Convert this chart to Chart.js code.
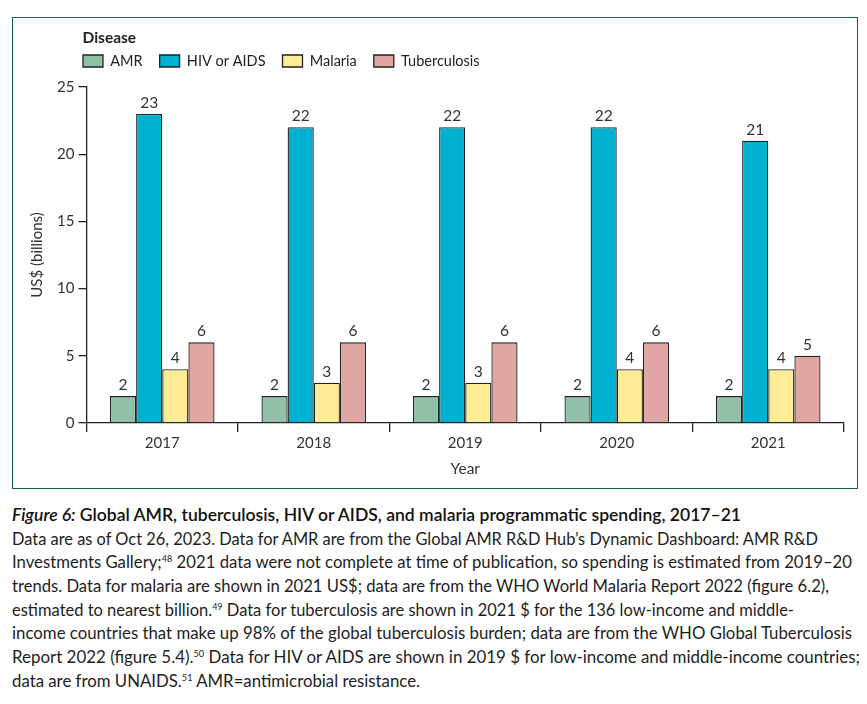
<!DOCTYPE html>
<html>
<head>
<meta charset="utf-8">
<script src="https://cdn.jsdelivr.net/npm/chart.js@4.4.1/dist/chart.umd.min.js"></script>
<style>
html,body{margin:0;padding:0;background:#fff;width:867px;height:704px;overflow:hidden}
#frame{position:absolute;left:12px;top:17px;width:844px;height:470px;border:1.5px solid #10683f}
#wrap{position:absolute;left:20px;top:20px;width:836px;height:466px}
#cap{position:absolute;left:12px;top:504px;color:#1e1e1e;font-family:Lato,"Open Sans",sans-serif;font-size:16.5px}
.ln{display:block;width:max-content;white-space:nowrap;height:23.7px;line-height:23.7px;transform-origin:0 50%}
.ttl{font-weight:600;color:#111}
sup{font-size:9px;line-height:0;vertical-align:6px}
</style>
</head>
<body>
<div id="frame"></div>
<div id="wrap"><canvas id="c"></canvas></div>
<div id="cap">
<span class="ln ttl" data-w="729"><i>Figure 6:</i> Global AMR, tuberculosis, HIV or AIDS, and malaria programmatic spending, 2017–21</span>
<span class="ln" data-w="806">Data are as of Oct 26, 2023. Data for AMR are from the Global AMR R&amp;D Hub’s Dynamic Dashboard: AMR R&amp;D</span>
<span class="ln" data-w="840">Investments Gallery;<sup>48</sup> 2021 data were not complete at time of publication, so spending is estimated from 2019–20</span>
<span class="ln" data-w="817">trends. Data for malaria are shown in 2021 US$; data are from the WHO World Malaria Report 2022 (figure 6.2),</span>
<span class="ln" data-w="782">estimated to nearest billion.<sup>49</sup> Data for tuberculosis are shown in 2021 $ for the 136 low-income and middle-</span>
<span class="ln" data-w="840">income countries that make up 98% of the global tuberculosis burden; data are from the WHO Global Tuberculosis</span>
<span class="ln" data-w="848">Report 2022 (figure 5.4).<sup>50</sup> Data for HIV or AIDS are shown in 2019 $ for low-income and middle-income countries;</span>
<span class="ln" data-w="408">data are from UNAIDS.<sup>51</sup> AMR=antimicrobial resistance.</span>
</div>
<script>
// ---- data ----
const years = ['2017', '2018', '2019', '2020', '2021'];
const amr = [2, 2, 2, 2, 2];
const hivAids = [23, 22, 22, 22, 21];
const malaria = [4, 3, 3, 4, 4];
const tuberculosis = [6, 6, 6, 6, 5];
const yTicks = [0, 5, 10, 15, 20, 25];

const FONT = 'Lato, "Open Sans", sans-serif';
const INK = '#222';
const TXT = '#333';

const valueLabels = {
  id: 'valueLabels',
  afterDatasetsDraw(chart) {
    const ctx = chart.ctx;
    ctx.save();
    ctx.font = '15.5px ' + FONT;
    ctx.fillStyle = TXT;
    ctx.textAlign = 'center';
    ctx.textBaseline = 'alphabetic';
    chart.data.datasets.forEach((ds, i) => {
      chart.getDatasetMeta(i).data.forEach((bar, j) => {
        ctx.fillText(String(ds.data[j]), bar.x, bar.y - 6);
      });
    });
    ctx.restore();
  }
};

const placeLegend = {
  id: 'placeLegend',
  beforeDraw(chart) {
    const ca = chart.chartArea;
    const tb = chart.titleBlock, lg = chart.legend;
    const x0 = ca.left - 4;
    if (tb) { const w = tb.right - tb.left; tb.left = x0; tb.right = x0 + w; }
    if (lg) {
      const pad = lg.options.labels.padding;
      const fs = lg.options.labels.font.size;
      const h = lg.bottom - lg.top;
      lg.left = x0 + 0.5 - pad; lg.right = chart.width;
      lg.top = ca.top - 26 - fs / 2 - pad; lg.bottom = lg.top + h;
    }
  }
};

const mk = (label, data, color) => ({
  label, data, backgroundColor: color, borderColor: INK, borderWidth: 1.3,
  categoryPercentage: 0.69, barPercentage: 1
});

new Chart(document.getElementById('c'), {
  type: 'bar',
  data: {
    labels: years,
    datasets: [
      mk('AMR', amr, '#92bfa7'),
      mk('HIV or AIDS', hivAids, '#00b0d0'),
      mk('Malaria', malaria, '#feeb96'),
      mk('Tuberculosis', tuberculosis, '#e0a6a3')
    ]
  },
  options: {
    responsive: true,
    maintainAspectRatio: false,
    animation: false,
    devicePixelRatio: 1,
    layout: { padding: { left: 0, right: 12, top: 0, bottom: 0 } },
    plugins: {
      title: {
        display: true, text: 'Disease', align: 'start', color: INK,
        font: { family: FONT, size: 15.5, weight: 'bold' },
        padding: { top: 8.7, bottom: -1.8 }
      },
      legend: {
        display: true, position: 'top', align: 'start',
        labels: {
          boxWidth: 20, boxHeight: 12, padding: 17, color: INK,
          font: { family: FONT, size: 14.5 }
        }
      },
      tooltip: { enabled: false }
    },
    scales: {
      x: {
        offset: true,
        grid: { display: true, offset: true, drawOnChartArea: false, drawTicks: true, tickLength: 9, color: INK, lineWidth: 1.3 },
        border: { display: true, color: INK, width: 1.3 },
        ticks: { color: TXT, padding: 2, font: { family: FONT, size: 15 } },
        title: { display: true, text: 'Year', color: TXT, font: { family: FONT, size: 15.5 }, padding: { top: 8, bottom: 7.5 } },
        afterFit(s) { s.height = 63; }
      },
      y: {
        min: 0, max: 25,
        afterBuildTicks(s) { s.ticks = yTicks.map(v => ({ value: v })); },
        grid: { display: true, drawOnChartArea: false, drawTicks: true, tickLength: 8, color: INK, lineWidth: 1.3 },
        border: { display: true, color: INK, width: 1.3 },
        ticks: { color: TXT, padding: 4, font: { family: FONT, size: 15 } },
        title: { display: true, text: 'US$ (billions)', color: TXT, font: { family: FONT, size: 15 }, padding: { top: 8, bottom: 0 } },
        afterFit(s) { s.width = 66.5; }
      }
    }
  },
  plugins: [valueLabels, placeLegend]
});

function fitCaption() {
  document.querySelectorAll('#cap .ln').forEach(el => {
    el.style.transform = 'none';
    const w = el.getBoundingClientRect().width;
    const t = parseFloat(el.dataset.w);
    if (w > 0) el.style.transform = 'scaleX(' + (t / w) + ')';
  });
}
fitCaption();
if (document.fonts && document.fonts.ready) document.fonts.ready.then(fitCaption);
</script>
</body>
</html>
